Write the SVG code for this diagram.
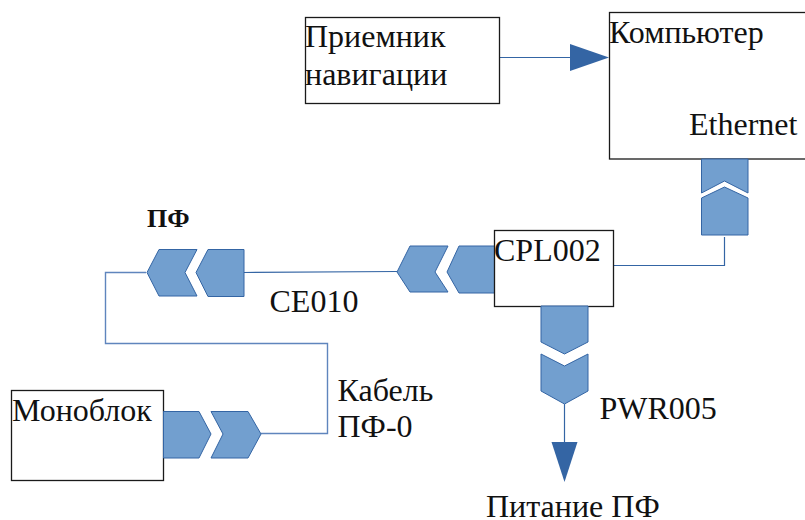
<svg xmlns="http://www.w3.org/2000/svg" width="805" height="520" viewBox="0 0 805 520">
<style>
.box{fill:#fff;stroke:#1a1a1a;stroke-width:1.3}
.sh{fill:#729fcf;stroke:#3465a4;stroke-width:1}
.ln{fill:none;stroke:#3465a4;stroke-width:1.2}
.ln2{fill:none;stroke:#5f85bd;stroke-width:1.4}
.ah{fill:#3465a4}
text{font-family:"Liberation Serif",serif;font-size:32px;fill:#111}
</style>
<rect width="805" height="520" fill="#fff"/>
<g id="connectors">
<path class="ln" d="M500 57.500H570"/>
<polygon class="ah" points="570,44 609,57.500 570,71"/>
<path class="ln" d="M614 265.500H724.500V237"/>
<path class="ln" d="M244 272.500L397 271.500"/>
<path class="ln2" d="M146 272.500H105.500V343.500H327.500V433.500H261"/>
<path class="ln" d="M564.500 404V442"/>
<polygon class="ah" points="551.500,442 577.500,442 564.500,482"/>
</g>
<g id="receiver"><rect class="box" x="305.500" y="17.500" width="194" height="86"/>
<text x="305" y="47">Приемник</text><text x="305" y="85">навигации</text></g>
<g id="computer"><rect class="box" x="609.500" y="12.500" width="200" height="146.500"/>
<text x="609" y="42.500">Компьютер</text><text x="689" y="135">Ethernet</text></g>
<g id="ethernet-connector">
<polygon class="sh" points="701.500,159 748,159 748,193 724.500,181 701.500,193"/>
<polygon class="sh" points="701.500,198 724.500,187 748,198 748,235 701.500,235"/>
</g>
<g id="cpl-left-connector">
<polygon class="sh" points="397,272 410,246 448,246 435,272 448,292 410,292"/>
<polygon class="sh" points="447,272 459,246 495,246 495,293 459,293"/>
</g>
<g id="cpl002"><rect class="box" x="494.500" y="230.500" width="119" height="76"/>
<text x="494" y="260.500">CPL002</text></g>
<g id="pf-connector">
<polygon class="sh" points="147,272.500 159,249.500 197,249.500 185,272.500 197,296 159,296"/>
<polygon class="sh" points="196,272.500 208,249.500 244,249.500 244,296.500 208,296.500"/>
<text x="147" y="227" style="font-size:26px;font-weight:bold">ПФ</text>
</g>
<text x="269.500" y="312">CE010</text>
<g id="pwr-connector">
<polygon class="sh" points="541,306 588,306 588,342 564.500,354 541,342"/>
<polygon class="sh" points="541,354 564.500,366 588,354 588,391 564.500,404 541,391"/>
</g>
<text x="599.500" y="419">PWR005</text>
<text x="486" y="517">Питание ПФ</text>
<g id="monoblock"><rect class="box" x="11.500" y="390.500" width="152" height="90"/>
<text x="12" y="420.500">Моноблок</text></g>
<g id="mono-connector">
<polygon class="sh" points="163.500,411.500 199,411.500 211,434 199,458 163.500,458"/>
<polygon class="sh" points="211,411.500 248,411.500 261,434 248,458 211,458 223,434"/>
</g>
<text x="337.500" y="401">Кабель</text>
<text x="337.500" y="437">ПФ-0</text>
</svg>
